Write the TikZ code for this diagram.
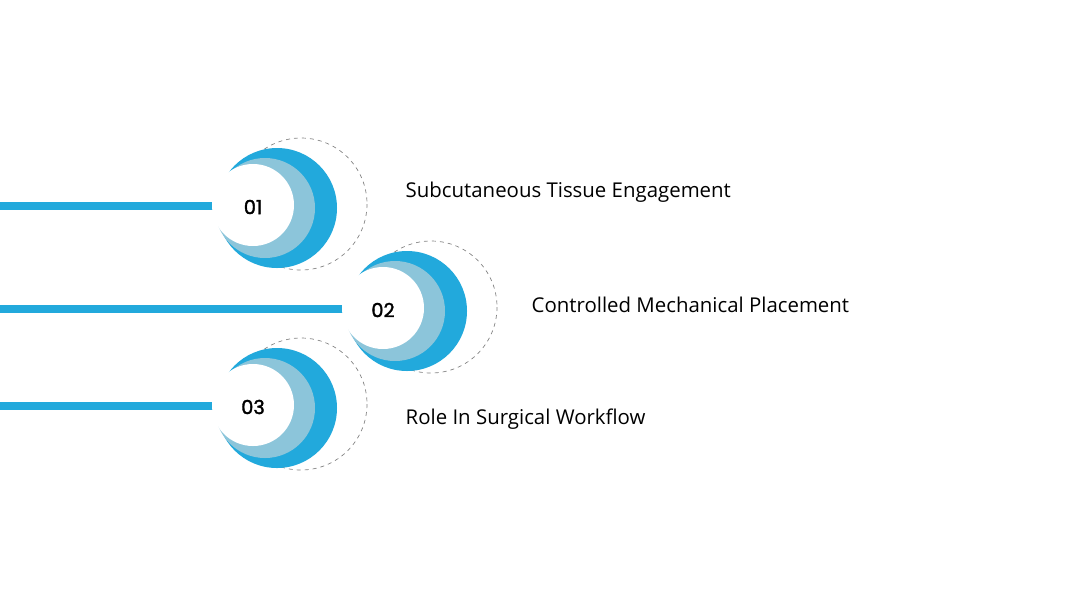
\documentclass[tikz,border=0pt]{standalone}
\usepackage{fontspec}
\setmainfont{Open Sans}
\newfontfamily\numfont[FakeBold=1.8]{Poppins}
\definecolor{cblue}{HTML}{22A9DC}
\definecolor{clight}{HTML}{8CC5DA}
\begin{document}
\begin{tikzpicture}[x=0.75pt,y=-0.75pt,
  bar/.style={line width=6.5pt,cblue},
  lbl/.style={anchor=west,font=\fontsize{15.3}{18}\selectfont},
  num/.style={font=\numfont\fontsize{14.5}{16}\selectfont}]
\useasboundingbox[fill=white] (0,0) rectangle (1080,608);
\foreach \dx/\dy/\n/\t/\lx/\ly in {0/0/01/Subcutaneous Tissue Engagement/401/192,130/103/02/Controlled Mechanical Placement/527/305,0/200/03/Role In Surgical Workflow/401/419}{
  \begin{scope}[shift={(\dx,\dy)}]
    \coordinate (s\n) at (-\dx,206);
    \draw[bar] (s\n) -- (225,206);
    \draw[gray,dashed,line width=0.5pt] (301,204) circle[radius=66];
    \fill[cblue] (277,208) circle[radius=60];
    \fill[clight] (265,208) circle[radius=50];
    \fill[white] (253,205) circle[radius=41];
    \node[num] (n\n) at (253,207) {\n};
  \end{scope}
  \node[lbl] (t\n) at (\lx,\ly) {\t};
}
\end{tikzpicture}
\end{document}
